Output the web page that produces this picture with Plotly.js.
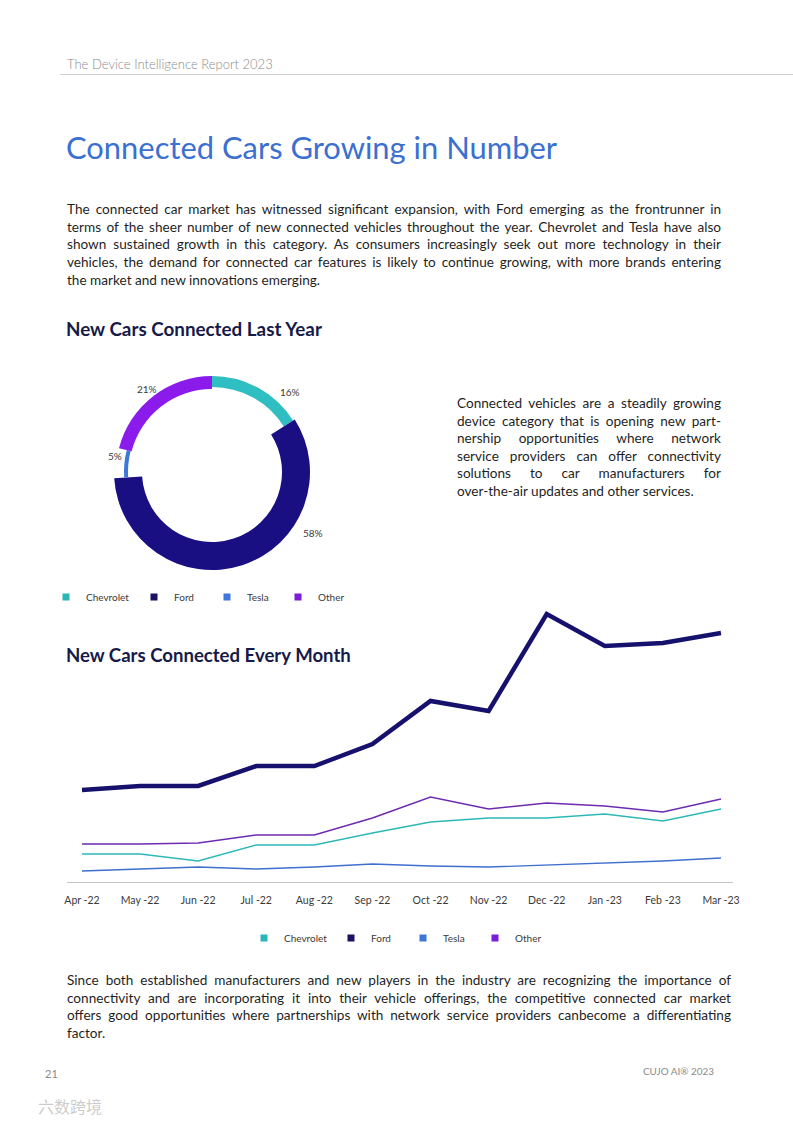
<!DOCTYPE html>
<html>
<head>
<meta charset="utf-8">
<script src="https://cdn.plot.ly/plotly-3.0.1.min.js"></script>
<style>
html,body{margin:0;padding:0;background:#fff;}
#page{position:relative;width:793px;height:1122px;overflow:hidden;background:#fff;font-family:Lato,"Noto Sans",sans-serif;}
#chart{position:absolute;left:0;top:0;width:793px;height:1122px;}
.t{position:absolute;white-space:nowrap;}
.just{position:absolute;color:#1f1f1f;}
.just div{text-align:justify;text-align-last:justify;white-space:nowrap;}
.just div.last{text-align-last:left;}
#rule{position:absolute;left:60px;top:74px;width:733px;height:1px;background:#cfcfcf;}
</style>
</head>
<body>
<div id="page">
  <div id="chart"></div>
  <div id="rule"></div>
  <div class="t fit" data-w="206" style="left:67px;top:56px;font-size:12.5px;line-height:16px;color:#8a8a8a;font-weight:300;">The Device Intelligence Report 2023</div>
  <div class="t fit" data-w="491" style="left:66px;top:129px;font-size:29px;line-height:36px;color:#3b6fd0;">Connected Cars Growing in Number</div>

  <div class="just" id="p1" style="left:67px;top:201px;width:654px;font-size:13.6px;line-height:17.7px;">
    <div>The connected car market has witnessed significant expansion, with Ford emerging as the frontrunner in</div>
    <div>terms of the sheer number of new connected vehicles throughout the year. Chevrolet and Tesla have also</div>
    <div>shown sustained growth in this category. As consumers increasingly seek out more technology in their</div>
    <div>vehicles, the demand for connected car features is likely to continue growing, with more brands entering</div>
    <div class="last">the market and new innovations emerging.</div>
  </div>

  <div class="t fit" data-w="256" style="left:66px;top:318px;font-size:17px;line-height:22px;color:#161a48;font-weight:700;">New Cars Connected Last Year</div>

  <div class="just" id="p2" style="left:457px;top:395px;width:264px;font-size:13.6px;line-height:17.5px;">
    <div>Connected vehicles are a steadily growing</div>
    <div>device category that is opening new part-</div>
    <div>nership opportunities where network</div>
    <div>service providers can offer connectivity</div>
    <div>solutions to car manufacturers for</div>
    <div class="last">over-the-air updates and other services.</div>
  </div>

  <div class="t fit" data-w="285" style="left:66px;top:644px;font-size:17px;line-height:22px;color:#161a48;font-weight:700;">New Cars Connected Every Month</div>

  <div class="just" id="p3" style="left:67px;top:972px;width:664px;font-size:13.6px;line-height:17.5px;">
    <div>Since both established manufacturers and new players in the industry are recognizing the importance of</div>
    <div>connectivity and are incorporating it into their vehicle offerings, the competitive connected car market</div>
    <div>offers good opportunities where partnerships with network service providers canbecome a differentiating</div>
    <div class="last">factor.</div>
  </div>

  <div class="t" style="left:45px;top:1066px;font-size:11px;line-height:16px;color:#8a8a8a;">21</div>
  <div class="t fit" data-w="71" style="left:643px;top:1063px;font-size:10.5px;line-height:16px;color:#8a8a8a;">CUJO AI® 2023</div>
  <div class="t" style="left:38px;top:1095px;font-size:16px;line-height:22px;color:rgba(160,160,160,0.55);font-family:'Noto Sans CJK SC';">六数跨境</div>
</div>

<script>
// ---------- data ----------
const months = ['Apr -22','May -22','Jun -22','Jul -22','Aug -22','Sep -22','Oct -22','Nov -22','Dec -22','Jan -23','Feb -23','Mar -23'];
const chevrolet = [28, 28, 21, 37, 37, 49, 60, 64, 64, 68, 61, 73];
const ford      = [92, 96, 96, 116, 116, 138, 181, 171, 268, 236, 239, 249];
const tesla     = [11, 13, 15, 13, 15, 18, 16, 15, 17, 19, 21, 24];
const other     = [38, 38, 39, 47, 47, 64, 85, 73, 79, 76, 70, 83];
const brands = ['Chevrolet', 'Ford', 'Tesla', 'Other'];
const shares = [16, 58, 5, 21];

// ---------- styles / layout constants ----------
const W = 793, H = 1122;
const colors = ['#2fbfc2', '#1a0f82', '#3b78d8', '#8a1bea'];
const lineColors = ['#2db8b8', '#17116e', '#3f70cf', '#6c2bb0'];
const legendColors = ['#2ab5b8', '#1a1064', '#3b78d8', '#7a1cd8'];
const px = x => x / W;
const py = y => 1 - y / H;

// donut geometry (px): outer / inner radius per slice
const cx = 212, cy = 472;
const rings = [{R: 96, r: 85}, {R: 98, r: 70}, {R: 88, r: 84}, {R: 96, r: 83}];
const labelPos = [[290, 392], [313, 533], [106, 456], [135, 389]];

const traces = [];
rings.forEach((ring, i) => {
  traces.push({
    type: 'pie',
    labels: brands,
    values: shares,
    sort: false,
    direction: 'clockwise',
    rotation: 0,
    hole: ring.r / ring.R,
    textinfo: 'none',
    hoverinfo: 'none',
    showlegend: false,
    marker: {colors: brands.map((b, j) => j === i ? colors[j] : 'rgba(0,0,0,0)'), line: {width: 0}},
    domain: {x: [px(cx - ring.R), px(cx + ring.R)], y: [py(cy + ring.R), py(cy - ring.R)]}
  });
});

// line chart
const series = [chevrolet, ford, tesla, other];
const widths = [1.4, 4.5, 1.4, 1.4];
[2, 0, 3, 1].forEach(i => {
  traces.push({
    type: 'scatter', mode: 'lines', x: months, y: series[i], name: brands[i],
    line: {color: lineColors[i], width: widths[i]}, showlegend: false, hoverinfo: 'skip',
    xaxis: 'x', yaxis: 'y'
  });
});

// legends (one per entry so spacing can follow the reference)
const donutLegendX = [46, 134, 207, 278], donutLegendY = 597;
const lineLegendX = [244, 331, 403, 475], lineLegendY = 938;
const layoutLegends = {};
let n = 1;
[[donutLegendX, donutLegendY], [lineLegendX, lineLegendY]].forEach(([xs, yc]) => {
  brands.forEach((b, i) => {
    const key = n === 1 ? 'legend' : 'legend' + n;
    layoutLegends[key] = {
      x: px(xs[i]), xanchor: 'left', y: py(yc), yanchor: 'middle',
      orientation: 'h', bgcolor: 'rgba(0,0,0,0)', borderwidth: 0,
      font: {size: 10, color: '#3a3a3a', family: 'Lato'}, itemclick: false, itemdoubleclick: false
    };
    traces.push({
      type: 'scatter', mode: 'markers', x: [null], y: [null], name: b,
      marker: {symbol: 'square', size: 7, color: legendColors[i]},
      legend: key, showlegend: true, hoverinfo: 'skip', xaxis: 'x', yaxis: 'y'
    });
    n++;
  });
});

const annotations = shares.map((s, i) => ({
  text: s + '%', x: px(labelPos[i][0]), y: py(labelPos[i][1]), xref: 'paper', yref: 'paper',
  showarrow: false, font: {size: 10, color: '#3a3a3a', family: 'Lato'}
}));

const layout = Object.assign({
  width: W, height: H,
  margin: {l: 0, r: 0, t: 0, b: 0},
  paper_bgcolor: 'rgba(0,0,0,0)', plot_bgcolor: 'rgba(0,0,0,0)',
  font: {family: 'Lato', color: '#333'},
  xaxis: {
    type: 'category', domain: [px(67), px(733)], range: [-0.258, 11.207],
    showline: true, linecolor: '#c4c4c4', linewidth: 1, showgrid: false, zeroline: false,
    ticks: '', ticklabelstandoff: 8, tickfont: {size: 10.5, color: '#3a3a3a', family: 'Lato'}, fixedrange: true
  },
  yaxis: {
    domain: [py(882), py(606)], range: [0, 276],
    visible: false, showgrid: false, zeroline: false, fixedrange: true
  },
  annotations: annotations,
  showlegend: true
}, layoutLegends);

Plotly.newPlot('chart', traces, layout, {staticPlot: true, displayModeBar: false});

// fit single-line headings to their reference widths
document.querySelectorAll('.fit').forEach(el => {
  const target = +el.dataset.w;
  const fs = parseFloat(getComputedStyle(el).fontSize);
  const w = el.getBoundingClientRect().width;
  if (w > 0) el.style.fontSize = (fs * target / w).toFixed(2) + 'px';
});
</script>
</body>
</html>
